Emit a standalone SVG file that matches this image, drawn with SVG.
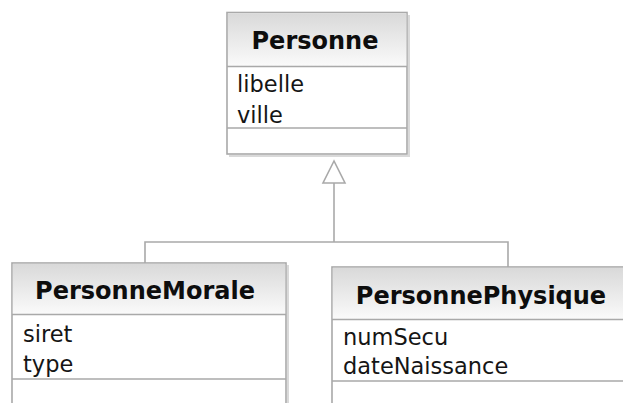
<svg xmlns="http://www.w3.org/2000/svg" width="623" height="403" viewBox="0 0 623 403">
<defs>
<linearGradient id="hdr" x1="0" y1="0" x2="0" y2="1">
<stop offset="0" stop-color="#d9d9d9"/>
<stop offset="1" stop-color="#fafafa"/>
</linearGradient>
<style>
.box{fill:#ffffff;stroke:#a9a9a9;stroke-width:1.6}
.shadow{fill:none;stroke:#d9d9d9;stroke-width:2}
.head{fill:url(#hdr);stroke:none}
.sep{stroke:#a9a9a9;stroke-width:1.6;fill:none}
.title{font-family:"DejaVu Sans",Verdana,sans-serif;font-weight:bold;font-size:24px;fill:#0d0d0d;text-anchor:middle}
.attr{font-family:"DejaVu Sans",Verdana,sans-serif;font-size:22.5px;fill:#151515}
.conn{stroke:#a9a9a9;stroke-width:1.6;fill:none}
</style>
</defs>
<rect width="623" height="403" fill="#ffffff"/>
<g id="connectors">
<polyline class="conn" points="334,183 334,242"/>
<polyline class="conn" points="145,263 145,242 508,242 508,267"/>
<polygon points="334,161 323,183 345,183" fill="#ffffff" stroke="#a9a9a9" stroke-width="1.6"/>
</g>
<g id="Personne">
<path class="shadow" d="M409,15 V156 H229"/>
<rect class="box" x="227" y="12.5" width="180" height="141.5"/>
<rect class="head" x="228" y="13.3" width="178.4" height="52.7"/>
<line class="sep" x1="227" y1="66.5" x2="407" y2="66.5"/>
<line class="sep" x1="227" y1="128" x2="407" y2="128"/>
<text class="title" x="315" y="48.5">Personne</text>
<text class="attr" x="237" y="92">libelle</text>
<text class="attr" x="237" y="123">ville</text>
</g>
<g id="PersonneMorale">
<path class="shadow" d="M288,265 V403"/>
<rect class="box" x="12" y="263" width="274" height="150"/>
<rect class="head" x="12.8" y="263.8" width="272.4" height="50.2"/>
<line class="sep" x1="12" y1="314.5" x2="286" y2="314.5"/>
<line class="sep" x1="12" y1="379" x2="286" y2="379"/>
<text class="title" x="145" y="298.5">PersonneMorale</text>
<text class="attr" x="23" y="342">siret</text>
<text class="attr" x="23" y="372">type</text>
</g>
<g id="PersonnePhysique">
<rect class="box" x="332" y="267" width="300" height="150"/>
<rect class="head" x="332.8" y="267.8" width="298" height="51.2"/>
<line class="sep" x1="332" y1="319.5" x2="632" y2="319.5"/>
<line class="sep" x1="332" y1="381" x2="632" y2="381"/>
<text class="title" x="481" y="303.5">PersonnePhysique</text>
<text class="attr" x="343" y="345">numSecu</text>
<text class="attr" x="343" y="374">dateNaissance</text>
</g>
</svg>
